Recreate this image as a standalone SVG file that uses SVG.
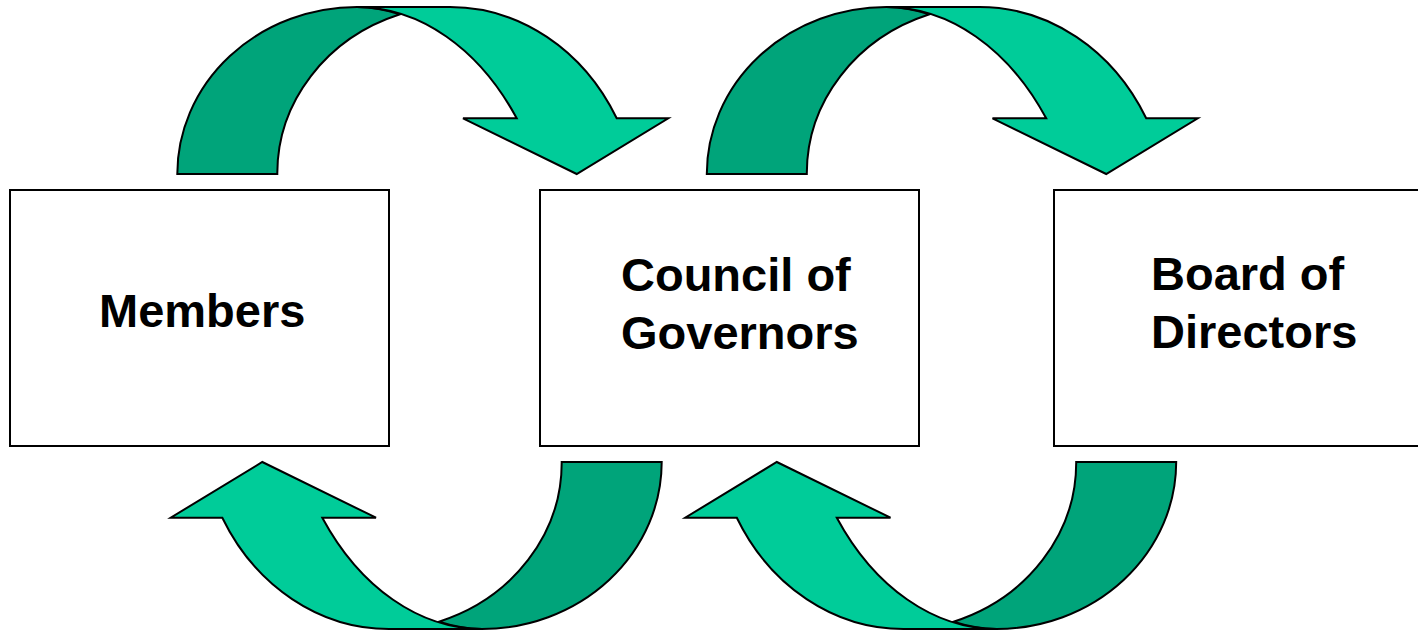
<svg xmlns="http://www.w3.org/2000/svg" width="1418" height="630" viewBox="0 0 1418 630">
  <style>
    .box { fill: #ffffff; stroke: #000000; stroke-width: 2; }
    .lbl { font-family: "Liberation Sans", Arial, sans-serif; font-weight: bold; font-size: 47px; fill: #000000; }
    .dark { fill: #00A47A; stroke: #000000; stroke-width: 2; stroke-linejoin: miter; }
    .light { fill: #00CC99; stroke: #000000; stroke-width: 2; stroke-linejoin: miter; }
  </style>
  <defs>
    <g id="curvedArrow">
      <path class="dark" d="M177.3,174 A180,167 0 0 1 357,7 A200,278 0 0 1 400,14.3 A182.7,168.4 0 0 0 277.3,174 Z"/>
      <path class="light" d="M357,7 L450,7 A190,214 0 0 1 616.7,118.3 L668.3,118.3 L576.7,174 L463,118.3 L516.7,118.3 A200,278 0 0 0 357,7 Z"/>
    </g>
  </defs>
  <rect width="1418" height="630" fill="#ffffff"/>
  <g id="connectors">
    <use id="arrow-members-council" href="#curvedArrow"/>
    <use id="arrow-council-board" href="#curvedArrow" transform="translate(529.5,0)"/>
    <use id="arrow-council-members" href="#curvedArrow" transform="rotate(180,419.5,318)"/>
    <use id="arrow-board-council" href="#curvedArrow" transform="translate(514.5,0) rotate(180,419.5,318)"/>
  </g>
  <g id="node-members">
    <rect class="box" x="10" y="190" width="379" height="256"/>
    <text class="lbl" x="99" y="327">Members</text>
  </g>
  <g id="node-council">
    <rect class="box" x="540" y="190" width="379" height="256"/>
    <text class="lbl" x="621" y="291">Council of</text>
    <text class="lbl" x="621" y="349">Governors</text>
  </g>
  <g id="node-board">
    <rect class="box" x="1054" y="190" width="380" height="256"/>
    <text class="lbl" x="1151" y="290">Board of</text>
    <text class="lbl" x="1151" y="348">Directors</text>
  </g>
</svg>
